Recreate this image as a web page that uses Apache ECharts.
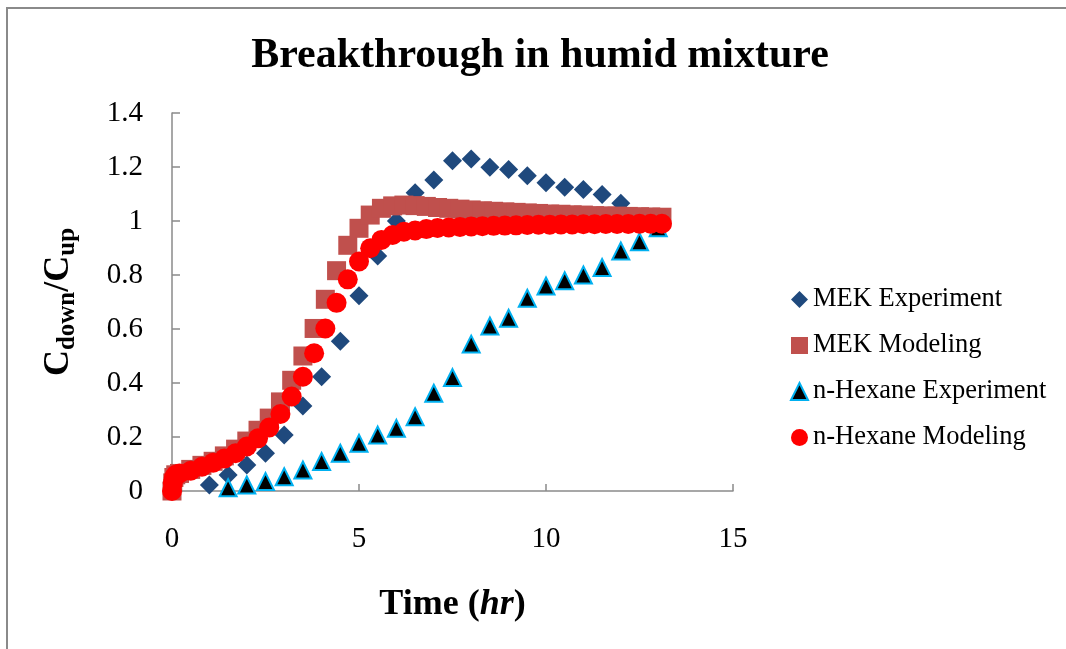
<!DOCTYPE html>
<html>
<head>
<meta charset="utf-8">
<script src="https://cdn.jsdelivr.net/npm/echarts@6/dist/echarts.min.js"></script>
<style>
  html, body { margin: 0; padding: 0; background: #fff; }
  #chart { width: 1066px; height: 649px; }
</style>
</head>
<body>
<div id="chart"></div>
<script>
// Experimental sampling times (hr) and measured C_down/C_up
const mekExpTime = [1.0, 1.5, 2.0, 2.5, 3.0, 3.5, 4.0, 4.5, 5.0, 5.5, 6.0, 6.5, 7.0, 7.5, 8.0, 8.5, 9.0, 9.5, 10.0, 10.5, 11.0, 11.5, 12.0, 12.5, 13.0];
const mekExp = [0.022, 0.059, 0.096, 0.14, 0.207, 0.315, 0.423, 0.555, 0.723, 0.87, 1.0, 1.105, 1.152, 1.223, 1.23, 1.199, 1.191, 1.168, 1.142, 1.125, 1.117, 1.098, 1.066, 1.01, 1.0];

const hexExpTime = [1.5, 2.0, 2.5, 3.0, 3.5, 4.0, 4.5, 5.0, 5.5, 6.0, 6.5, 7.0, 7.5, 8.0, 8.5, 9.0, 9.5, 10.0, 10.5, 11.0, 11.5, 12.0, 12.5, 13.0];
const hexExp = [0.012, 0.022, 0.035, 0.053, 0.078, 0.109, 0.14, 0.177, 0.207, 0.232, 0.275, 0.362, 0.42, 0.544, 0.611, 0.64, 0.714, 0.759, 0.779, 0.8, 0.828, 0.889, 0.923, 0.975];

// Model output times (hr)
const modelTime = [0, 0.02, 0.05, 0.1, 0.2, 0.5, 0.8, 1.1, 1.4, 1.7, 2.0, 2.3, 2.6, 2.9, 3.2, 3.5, 3.8, 4.1, 4.4, 4.7, 5.0, 5.3, 5.6, 5.9, 6.2, 6.5, 6.8, 7.1, 7.4, 7.7, 8.0, 8.3, 8.6, 8.9, 9.2, 9.5, 9.8, 10.1, 10.4, 10.7, 11.0, 11.3, 11.6, 11.9, 12.2, 12.5, 12.8, 13.1];
const mekModel = [0, 0.03, 0.05, 0.06, 0.065, 0.08, 0.095, 0.11, 0.13, 0.155, 0.185, 0.225, 0.27, 0.33, 0.41, 0.5, 0.602, 0.71, 0.816, 0.91, 0.973, 1.022, 1.047, 1.056, 1.059, 1.057, 1.054, 1.05, 1.047, 1.044, 1.041, 1.038, 1.036, 1.034, 1.032, 1.03, 1.028, 1.026, 1.025, 1.023, 1.022, 1.02, 1.019, 1.018, 1.017, 1.016, 1.015, 1.014];
const hexModel = [0, 0.03, 0.05, 0.06, 0.065, 0.075, 0.09, 0.105, 0.12, 0.14, 0.165, 0.195, 0.235, 0.285, 0.35, 0.423, 0.51, 0.602, 0.697, 0.784, 0.85, 0.899, 0.93, 0.948, 0.96, 0.965, 0.97, 0.974, 0.976, 0.978, 0.98, 0.981, 0.982, 0.983, 0.984, 0.985, 0.986, 0.986, 0.987, 0.987, 0.988, 0.988, 0.989, 0.989, 0.989, 0.99, 0.99, 0.99];

const seriesNames = ['MEK Experiment', 'MEK Modeling', 'n-Hexane Experiment', 'n-Hexane Modeling'];

const pairs = (xs, ys) => xs.map((x, i) => [x, ys[i]]);
const SERIF = '"Liberation Serif", "Times New Roman", serif';

const chart = echarts.init(document.getElementById('chart'), null, { renderer: 'canvas' });

chart.setOption({
  backgroundColor: '#ffffff',
  animation: false,
  textStyle: { fontFamily: SERIF, color: '#000' },
  graphic: [
    {
      type: 'polyline',
      shape: { points: [[7, 660], [7, 8], [1070, 8]] },
      style: { stroke: '#8a8a8a', lineWidth: 2, fill: null },
      silent: true
    },
    {
      type: 'text',
      x: 540, y: 56,
      style: {
        text: 'Breakthrough in humid mixture',
        font: 'bold 42px ' + SERIF,
        fill: '#000',
        textAlign: 'center',
        textVerticalAlign: 'middle'
      }
    }
  ],
  grid: { left: 172, top: 113, right: 333, bottom: 158 },
  legend: {
    orient: 'vertical',
    left: 785,
    top: 280,
    itemWidth: 17,
    itemHeight: 17,
    itemGap: 17,
    textStyle: { fontFamily: SERIF, fontSize: 26.5, color: '#000', lineHeight: 29 },
    data: seriesNames
  },
  xAxis: {
    type: 'value',
    min: 0, max: 15, interval: 5,
    name: '{b|Time (}{i|hr}{b|)}',
    nameLocation: 'middle',
    nameGap: 96,
    nameTextStyle: {
      rich: {
        b: { fontFamily: SERIF, fontSize: 36, fontWeight: 'bold', color: '#000' },
        i: { fontFamily: SERIF, fontSize: 36, fontWeight: 'bold', fontStyle: 'italic', color: '#000' }
      }
    },
    axisLine: { lineStyle: { color: '#8a8a8a', width: 1.5 } },
    axisTick: { inside: true, length: 7, lineStyle: { color: '#8a8a8a', width: 1.5 } },
    axisLabel: { fontFamily: SERIF, fontSize: 29, color: '#000', margin: 34 },
    splitLine: { show: false }
  },
  yAxis: {
    type: 'value',
    min: 0, max: 1.4, interval: 0.2,
    name: '{b|C}{s|down}{b|/C}{s|up}',
    nameLocation: 'middle',
    nameRotate: 90,
    nameGap: 92,
    nameTextStyle: {
      rich: {
        b: { fontFamily: SERIF, fontSize: 36, fontWeight: 'bold', color: '#000', lineHeight: 42 },
        s: { fontFamily: SERIF, fontSize: 25, fontWeight: 'bold', color: '#000', lineHeight: 25, verticalAlign: 'bottom' }
      }
    },
    axisLine: { show: true, lineStyle: { color: '#8a8a8a', width: 1.5 } },
    axisTick: { show: true, inside: true, length: 8, lineStyle: { color: '#8a8a8a', width: 1.5 } },
    axisLabel: { fontFamily: SERIF, fontSize: 29, color: '#000', margin: 29 },
    splitLine: { show: false }
  },
  series: [
    {
      name: seriesNames[0], type: 'scatter', symbol: 'diamond', symbolSize: 19,
      itemStyle: { color: '#1F497D', opacity: 1 },
      data: pairs(mekExpTime, mekExp)
    },
    {
      name: seriesNames[1], type: 'scatter', symbol: 'rect', symbolSize: 19,
      itemStyle: { color: '#C0504D', opacity: 1 },
      data: pairs(modelTime, mekModel)
    },
    {
      name: seriesNames[2], type: 'scatter', symbol: 'triangle', symbolSize: 17,
      itemStyle: { color: '#000000', borderColor: '#00B0F0', borderWidth: 2, opacity: 1 },
      data: pairs(hexExpTime, hexExp)
    },
    {
      name: seriesNames[3], type: 'scatter', symbol: 'circle', symbolSize: 20,
      itemStyle: { color: '#FF0000', opacity: 1 },
      data: pairs(modelTime, hexModel)
    }
  ]
});
</script>
</body>
</html>
